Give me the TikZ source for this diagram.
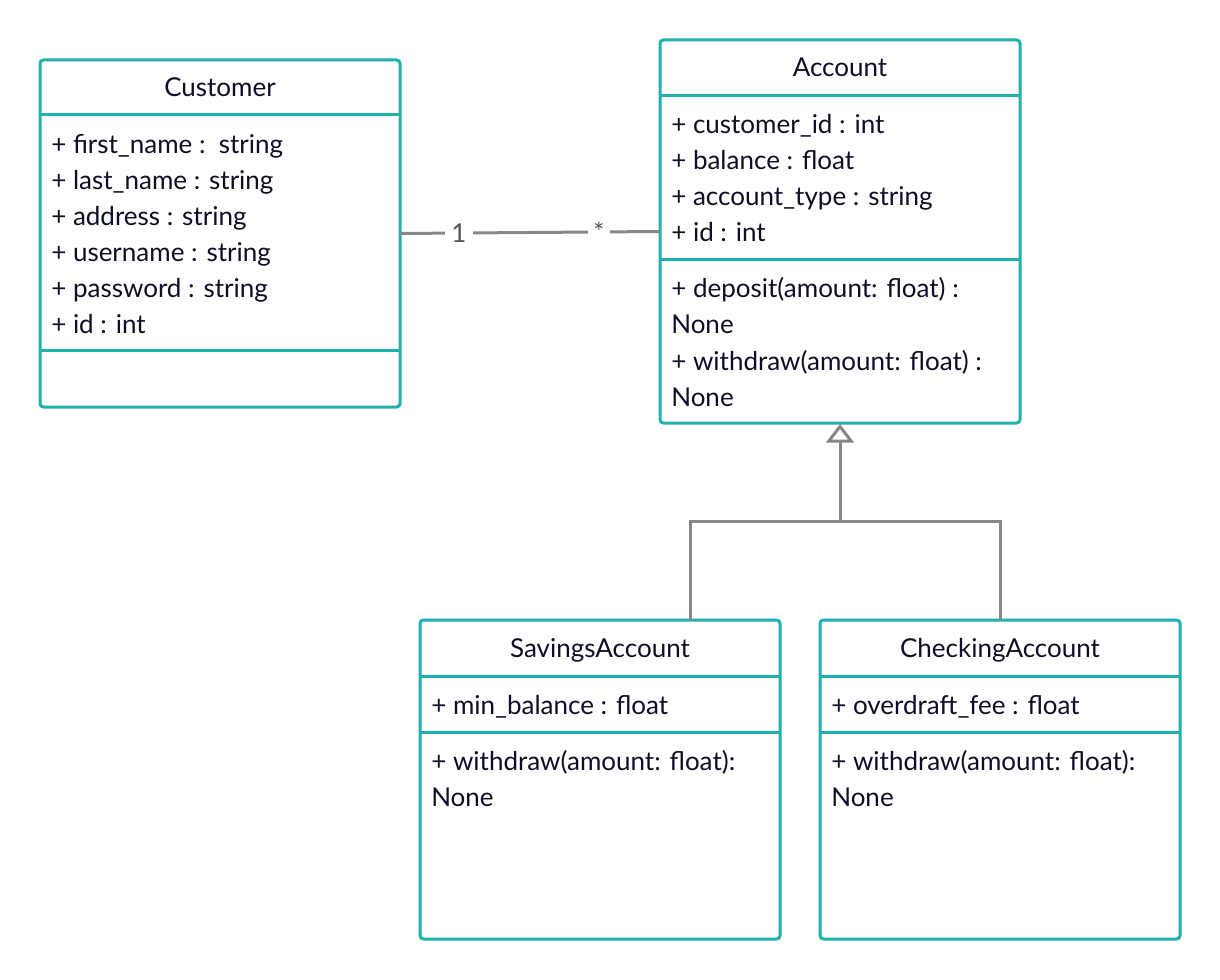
\documentclass[tikz,border=0pt]{standalone}
\usepackage{fontspec}
\setmainfont{Lato}
\usetikzlibrary{arrows.meta}
\definecolor{umlteal}{HTML}{20B2AA}
\definecolor{ink}{HTML}{0E0E26}
\definecolor{linkgray}{HTML}{888888}
\definecolor{multgray}{HTML}{555555}
\begin{document}
\begin{tikzpicture}[x=0.75pt,y=-0.75pt,
  cls/.style={draw=umlteal, line width=2.25pt, rounded corners=2.5pt, inner sep=0pt, outer sep=0pt, anchor=north west, minimum width=270pt},
  sepline/.style={draw=umlteal, line width=2.25pt},
  txt/.style={font=\fontsize{19.5}{23}\selectfont, text=ink, inner sep=0pt},
  title/.style={txt, anchor=base},
  attr/.style={txt, anchor=base west},
  link/.style={draw=linkgray, line width=2.25pt},
  mult/.style={font=\fontsize{19.5}{23}\selectfont, text=multgray, fill=white, inner sep=5pt},
]
\useasboundingbox (0,0) rectangle (1220,980);

% Customer
\node[cls, minimum height=260.25pt] (cust) at (40,60) {};
\draw[sepline] (40,115) -- (400,115);
\draw[sepline] (40,351) -- (400,351);
\node[title] (custT) at (220,97) {Customer};
\node[attr] (c1) at (51,154) {+ first\_name :\ \ string};
\node[attr] (c2) at (51,190) {+ last\_name : string};
\node[attr] (c3) at (51,226) {+ address : string};
\node[attr] (c4) at (51,262) {+ username : string};
\node[attr] (c5) at (51,298) {+ password : string};
\node[attr] (c6) at (51,334) {+ id : int};

% Account
\node[cls, minimum height=287.25pt] (acc) at (660,40) {};
\draw[sepline] (660,96) -- (1020,96);
\draw[sepline] (660,260) -- (1020,260);
\node[title] (accT) at (840,77) {Account};
\node[attr] (a1) at (671,134) {+ customer\_id : int};
\node[attr] (a2) at (671,170) {+ balance : float};
\node[attr] (a3) at (671,206) {+ account\_type : string};
\node[attr] (a4) at (671,242) {+ id : int};
\node[attr] (m1) at (671,298) {+ deposit(amount: float) :};
\node[attr] (m2) at (671,334) {None};
\node[attr] (m3) at (671,370) {+ withdraw(amount: float) :};
\node[attr] (m4) at (671,406) {None};

% SavingsAccount
\node[cls, minimum height=239.25pt] (sav) at (420,620) {};
\draw[sepline] (420,676) -- (780,676);
\draw[sepline] (420,732) -- (780,732);
\node[title] (savT) at (600,657) {SavingsAccount};
\node[attr] (s1) at (431,714) {+ min\_balance : float};
\node[attr] (s2) at (431,770) {+ withdraw(amount: float):};
\node[attr] (s3) at (431,806) {None};

% CheckingAccount
\node[cls, minimum height=239.25pt] (chk) at (820,620) {};
\draw[sepline] (820,676) -- (1180,676);
\draw[sepline] (820,732) -- (1180,732);
\node[title] (chkT) at (1000,657) {CheckingAccount};
\node[attr] (k1) at (831,714) {+ overdraft\_fee\ : float};
\node[attr] (k2) at (831,770) {+ withdraw(amount: float):};
\node[attr] (k3) at (831,806) {None};

% association
\draw[link] (cust.east) -- node[mult, pos=0.227] (one) {1} node[mult, pos=0.765, inner sep=4pt] (many) {*} (acc.west);

% generalization
\coordinate (join) at (840,521);
\draw[link, line join=miter] ([xshift=67.5pt]sav.north) |- (join) -| (chk.north);
\draw[link, -{Triangle[open, length=14pt, width=21pt]}] (join) -- ([yshift=-0.8pt]acc.south);
\end{tikzpicture}
\end{document}
